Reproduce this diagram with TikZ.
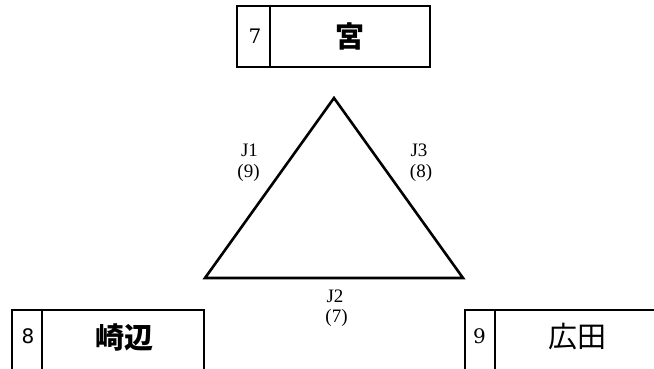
\documentclass[tikz,border=0pt]{standalone}
\usepackage{fontspec}
\setmainfont{Liberation Serif}
\newfontfamily\cjk{Noto Sans CJK JP}
\newfontfamily\sansnum{DejaVu Sans}
\newfontfamily\serifnum{DejaVu Serif}
\begin{document}
\begin{tikzpicture}[x=1pt,y=-1pt,
  boxline/.style={line width=2pt},
  triline/.style={line width=2.6pt, line join=miter},
  numtxt/.style={font=\serifnum\fontsize{20}{20}\selectfont, inner sep=0pt},
  nametxt/.style={font=\cjk\fontsize{29}{29}\selectfont\bfseries, inner sep=0pt},
  lbl/.style={font=\fontsize{19}{20.5}\selectfont, inner sep=0pt, align=center}]
\useasboundingbox (0,0) rectangle (654,368);
\clip (0,0) rectangle (654,368);
% top box
\draw[boxline] (236.5,6) rectangle (430,66.5);
\draw[boxline] (270,6) -- (270,66.5);
\node[numtxt] (n7) at (255,36) {7};
\node[nametxt] (miya) at (350,36) {宮};
% bottom-left box
\draw[boxline] (11.5,375) -- (11.5,310) -- (203.5,310) -- (203.5,375);
\draw[boxline] (41.5,310) -- (41.5,375);
\node[numtxt, font=\sansnum\fontsize{20}{20}\selectfont] (n8) at (28,336) {8};
\node[nametxt] (saki) at (124,337) {崎辺};
% bottom-right box
\draw[boxline] (464.5,375) -- (464.5,310) -- (660,310);
\draw[boxline] (495,310) -- (495,375);
\node[numtxt] (n9) at (479.5,336) {9};
\node[nametxt, font=\cjk\fontsize{29}{29}\selectfont] (hiro) at (577,337) {広田};
% triangle
\coordinate (A) at (334,98);
\coordinate (B) at (205,278);
\coordinate (C) at (463,278);
\draw[triline] (A) -- (B) -- (C) -- cycle;
\node[lbl] (j1) at (248.5,162.5) {\hspace{2pt}J1\\(9)};
\node[lbl] (j3) at (419,162.5) {J3\\\hspace{4pt}(8)};
\node[lbl] (j2) at (335,308) {J2\\\hspace{3pt}(7)};
\end{tikzpicture}
\end{document}
